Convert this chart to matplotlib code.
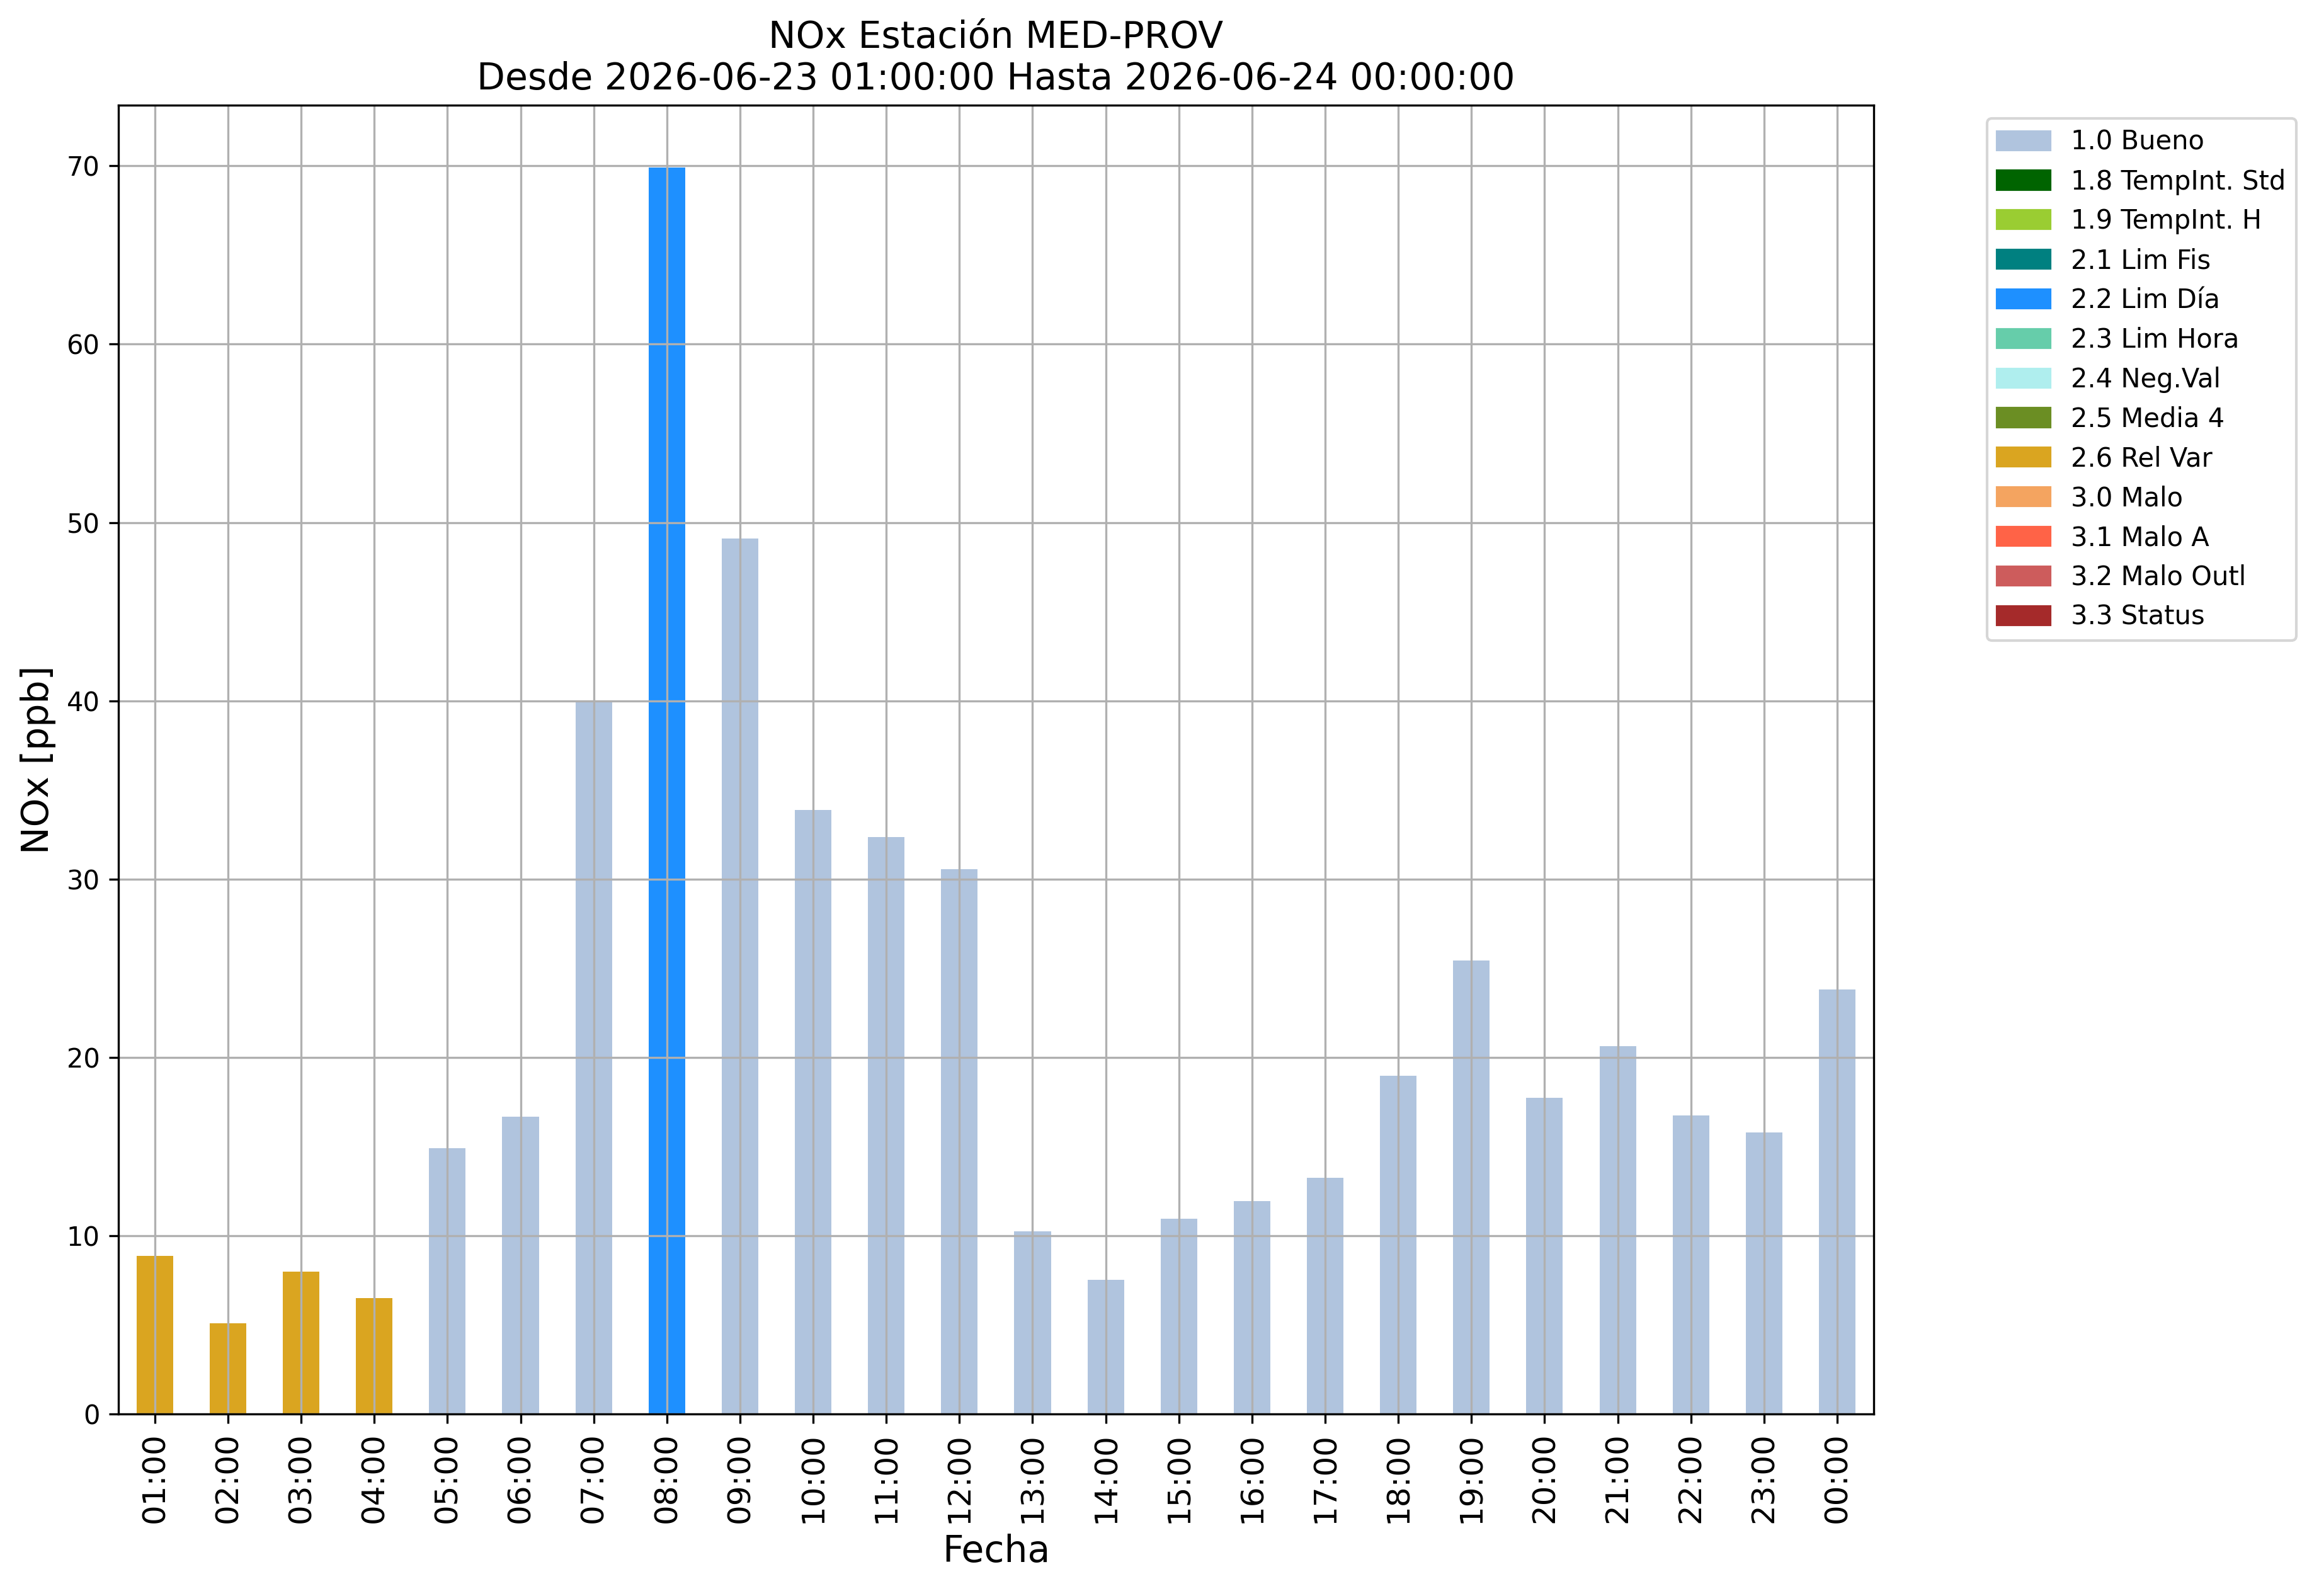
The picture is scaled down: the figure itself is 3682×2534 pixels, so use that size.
import matplotlib
matplotlib.use('Agg')
import matplotlib.pyplot as plt
from matplotlib.patches import Patch

# datos horarios NOx
horas = ['01:00', '02:00', '03:00', '04:00', '05:00', '06:00', '07:00', '08:00',
         '09:00', '10:00', '11:00', '12:00', '13:00', '14:00', '15:00', '16:00',
         '17:00', '18:00', '19:00', '20:00', '21:00', '22:00', '23:00', '00:00']
nox = [8.87, 5.09, 7.99, 6.50, 14.92, 16.69, 40.0, 69.9,
       49.09, 33.87, 32.35, 30.56, 10.25, 7.52, 10.97, 11.94,
       13.24, 18.96, 25.43, 17.73, 20.65, 16.73, 15.81, 23.81]
flags = ['2.6', '2.6', '2.6', '2.6', '1.0', '1.0', '1.0', '2.2',
         '1.0', '1.0', '1.0', '1.0', '1.0', '1.0', '1.0', '1.0',
         '1.0', '1.0', '1.0', '1.0', '1.0', '1.0', '1.0', '1.0']

# codigos de validacion
codigos = ['1.0', '1.8', '1.9', '2.1', '2.2', '2.3', '2.4', '2.5', '2.6', '3.0', '3.1', '3.2', '3.3']
nombres = ['Bueno', 'TempInt. Std', 'TempInt. H', 'Lim Fis', 'Lim Día', 'Lim Hora',
           'Neg.Val', 'Media 4', 'Rel Var', 'Malo', 'Malo A', 'Malo Outl', 'Status']
colores = ['lightsteelblue', 'darkgreen', 'yellowgreen', 'teal', 'dodgerblue',
           'mediumaquamarine', 'paleturquoise', 'olivedrab', 'goldenrod',
           'sandybrown', 'tomato', 'indianred', 'brown']
color_flag = dict(zip(codigos, colores))

fig, ax = plt.subplots(figsize=(3682/300, 2534/300), dpi=300)
fig.subplots_adjust(left=0.051, right=0.808, top=0.934, bottom=0.114)

x = list(range(len(horas)))
ax.bar(x, nox, width=0.5, color=[color_flag[f] for f in flags])
ax.set_xlim(-0.5, len(horas) - 0.5)
ax.set_xticks(x)
ax.set_xticklabels(horas, rotation=90, fontsize=12)
ax.tick_params(axis='y', labelsize=10)
ax.grid(True)

ax.set_xlabel('Fecha', fontsize=14)
ax.set_ylabel('NOx [ppb]', fontsize=14)
ax.set_title('NOx Estación MED-PROV\nDesde 2026-06-23 01:00:00 Hasta 2026-06-24 00:00:00', fontsize=14)

handles = [Patch(color=c, label=f'{k} {n}') for k, n, c in zip(codigos, nombres, colores)]
ax.legend(handles=handles, bbox_to_anchor=(1.057, 1), loc='upper left', fontsize=10)

fig.savefig('out.png', dpi=300)
